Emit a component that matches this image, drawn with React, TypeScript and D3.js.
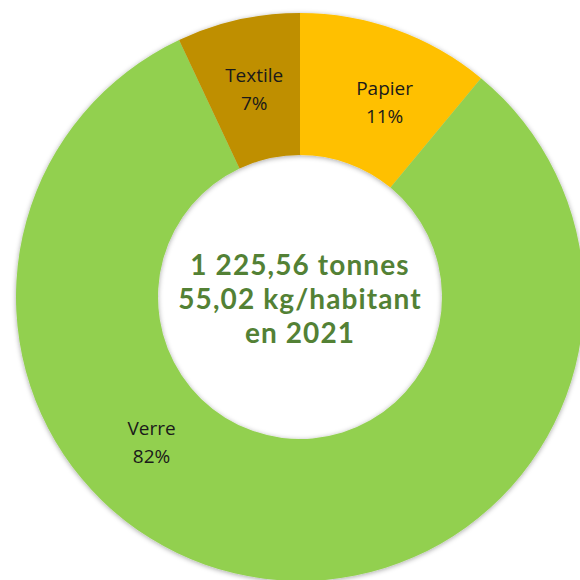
import React, { useRef, useEffect } from "react";
import * as d3 from "d3";

const categories = ["Papier", "Verre", "Textile"];
const shares = [11, 82, 7];
const colors = ["#FFC000", "#92D050", "#BF8F00"];
const centerLines = ["1 225,56 tonnes", "55,02 kg/habitant", "en 2021"];

const App = () => {
  const svgRef = useRef<SVGSVGElement>(null);

  useEffect(() => {
    const width = 580;
    const height = 580;
    const cx = 300;
    const cy = 297;
    const outerR = 284;
    const innerR = 142;

    const svg = d3.select(svgRef.current);
    svg.selectAll("*").remove();
    svg.attr("width", width).attr("height", height).style("background", "white");

    const defs = svg.append("defs");
    const shadow = defs.append("filter")
      .attr("id", "ringShadow")
      .attr("x", "-10%").attr("y", "-10%")
      .attr("width", "120%").attr("height", "120%");
    shadow.append("feDropShadow")
      .attr("dx", 0).attr("dy", 1)
      .attr("stdDeviation", 2.5)
      .attr("flood-color", "#000")
      .attr("flood-opacity", 0.35);

    const pie = d3.pie<number>().sort(null).value(d => d);
    const arcs = pie(shares);

    const arc = d3.arc<d3.PieArcDatum<number>>()
      .innerRadius(innerR)
      .outerRadius(outerR);

    const g = svg.append("g").attr("transform", `translate(${cx},${cy})`);

    g.append("g")
      .attr("filter", "url(#ringShadow)")
      .selectAll("path")
      .data(arcs)
      .enter()
      .append("path")
      .attr("d", arc)
      .attr("fill", (d, i) => colors[i]);

    // label placement: centroid on a ring of radius 210, Verre label sits lower-left
    const labelR = 210;
    const labelAngle = (d: d3.PieArcDatum<number>, i: number) => {
      if (categories[i] === "Verre") return (225 * Math.PI) / 180;
      if (categories[i] === "Papier") return d.startAngle + (d.endAngle - d.startAngle) * 0.6;
      return (d.startAngle + d.endAngle) / 2;
    };

    const labels = g.selectAll(".slice-label")
      .data(arcs)
      .enter()
      .append("text")
      .attr("class", "slice-label")
      .attr("text-anchor", "middle")
      .style("font-family", "'Open Sans', sans-serif")
      .style("font-size", "19px")
      .style("fill", "#1a1a1a")
      .attr("transform", (d, i) => {
        const a = labelAngle(d, i);
        return `translate(${labelR * Math.sin(a)},${-labelR * Math.cos(a)})`;
      });

    labels.append("tspan")
      .attr("x", 0)
      .attr("y", -10)
      .text((d, i) => categories[i]);
    labels.append("tspan")
      .attr("x", 0)
      .attr("y", 18)
      .text(d => `${d.data}%`);

    g.append("text")
      .attr("text-anchor", "middle")
      .style("font-family", "Lato, sans-serif")
      .style("font-weight", "700")
      .style("font-size", "28px")
      .style("letter-spacing", "1.1px")
      .style("fill", "#538135")
      .selectAll("tspan")
      .data(centerLines)
      .enter()
      .append("tspan")
      .attr("x", 0)
      .attr("y", (d, i) => -22 + i * 34)
      .text(d => d);
  }, []);

  return (
    <svg
      ref={svgRef}
      style={{ position: "absolute", left: 0, top: 0, display: "block" }}
    />
  );
};

export default App;
